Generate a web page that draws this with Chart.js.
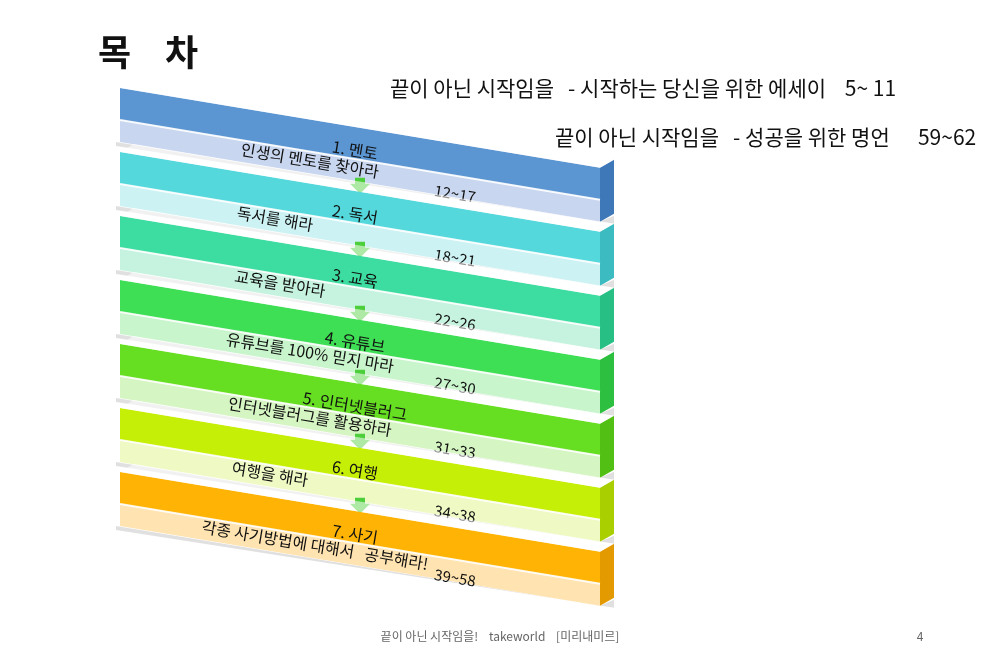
<!DOCTYPE html>
<html><head><meta charset="utf-8">
<script src="https://cdn.jsdelivr.net/npm/chart.js@4"></script>
<style>html,body{margin:0;padding:0;background:#fff}#w{width:1000px;height:667px}</style>
</head><body><div id="w"><canvas id="c"></canvas></div>
<script>
const titles=["1. 멘토","2. 독서","3. 교육","4. 유튜브","5. 인터넷블러그","6. 여행","7. 사기"];
const subtitles=["인생의 멘토를 찾아라","독서를 해라","교육을 받아라","유튜브를 100% 믿지 마라","인터넷블러그를 활용하라","여행을 해라","각종 사기방법에 대해서   공부해라!"];
const subX=[310,275,280,310,310,270,315];
const pages=["12~17","18~21","22~26","27~30","31~33","34~38","39~58"];
const darkColors=["#5b95d2","#55d8dc","#3ddca0","#3ede55","#66de22","#c6ef08","#ffb405"];
const paleColors=["#c8d6ef","#cdf2f3","#c6f3df","#c8f5cb","#d5f5c2","#eef9c4","#ffe3b0"];
const sideColors=["#3f78b8","#3cbcc0","#28bf85","#2dbf40","#52bf15","#a9cf00","#e39a00"];
const extraLines=[{t:"끝이 아닌 시작임을   - 시작하는 당신을 위한 에세이    5~ 11",x:390,y:88},{t:"끝이 아닌 시작임을   - 성공을 위한 명언      59~62",x:555,y:137}];

const S=0.166, X0=120, X1=600, Y0=88, STEP=64, HD=32, HP=22, SIDE=14;
const bandPlugin={id:'bands',afterDraw(ch){
  const c=ch.ctx,xs=ch.scales.x,ys=ch.scales.y;
  const P=(x,y)=>[xs.getPixelForValue(x),ys.getPixelForValue(y)];
  const poly=(pts,fill)=>{c.beginPath();pts.forEach((p,i)=>{const q=P(p[0],p[1]);i?c.lineTo(q[0],q[1]):c.moveTo(q[0],q[1]);});c.closePath();c.fillStyle=fill;c.fill();};
  c.save();
  titles.forEach((t,i)=>{
    const y=Y0+i*STEP, dy=(X1-X0)*S;
    poly([[X0-4,y+HD+HP],[X1,y+dy+HD+HP],[X1+SIDE,y+dy+HD+HP-6],[X1+SIDE,y+dy+HD+HP+2],[X0-4,y+HD+HP+4]],'rgba(0,0,0,0.12)');
    poly([[X0,y],[X1,y+dy],[X1,y+dy+HD],[X0,y+HD]],darkColors[i]);
    poly([[X0,y+HD],[X1,y+dy+HD],[X1,y+dy+HD+HP],[X0,y+HD+HP]],paleColors[i]);
    poly([[X1,y+dy],[X1+SIDE,y+dy-8],[X1+SIDE,y+dy+HD+HP-8],[X1,y+dy+HD+HP]],sideColors[i]);
    poly([[X0,y],[X0+SIDE,y-8],[X1+SIDE,y+dy-8],[X1,y+dy]],'rgba(255,255,255,0.55)');
    const a=P(X0,y+HD),b=P(X1,y+dy+HD);
    c.strokeStyle='rgba(255,255,255,0.9)';c.lineWidth=2;c.beginPath();c.moveTo(a[0],a[1]);c.lineTo(b[0],b[1]);c.stroke();
    if(i<titles.length-1){const ax=360,ay=y+(ax-X0)*S+HD+HP;
      poly([[ax-5,ay-4],[ax+5,ay-4],[ax+5,ay+2],[ax+10,ay+2],[ax,ay+12],[ax-10,ay+2],[ax-5,ay+2]],'#4ccf3a');}
    const ang=Math.atan(S);
    const txt=(s,x,yy,size)=>{const q=P(x,yy);c.save();c.translate(q[0],q[1]);c.rotate(ang);c.fillStyle='#111';c.font=size+'px "Noto Sans CJK KR"';c.textAlign='center';c.textBaseline='middle';c.fillText(s,0,0);c.restore();};
    txt(t,355,y+(355-X0)*S+23,16);
    txt(subtitles[i],subX[i],y+(subX[i]-X0)*S+41,16);
    txt(pages[i],455,y+(455-X0)*S+50,15);
  });
  c.fillStyle='#111';c.textAlign='left';c.textBaseline='middle';
  c.font='bold 36px "Noto Sans CJK KR"';c.fillText('목',P(98,0)[0],P(0,52)[1]);c.fillText('차',P(165,0)[0],P(0,52)[1]);
  c.font='21px "Noto Sans CJK KR"';
  extraLines.forEach(l=>c.fillText(l.t,P(l.x,0)[0],P(0,l.y)[1]));
  c.fillStyle='#666';c.font='12px "Noto Sans CJK KR"';c.textAlign='center';
  c.fillText('끝이 아닌 시작임을!    takeworld    [미리내미르]',P(500,0)[0],P(0,636)[1]);
  c.fillText('4',P(920,0)[0],P(0,636)[1]);
  c.restore();
}};
new Chart(document.getElementById('c'),{type:'scatter',data:{datasets:[{data:[]}]},
 options:{responsive:true,maintainAspectRatio:false,animation:false,layout:{padding:0},
  plugins:{legend:{display:false},tooltip:{enabled:false}},
  scales:{x:{type:'linear',min:0,max:1000,display:false},y:{type:'linear',min:0,max:667,reverse:true,display:false}}},
 plugins:[bandPlugin]});
</script></body></html>
